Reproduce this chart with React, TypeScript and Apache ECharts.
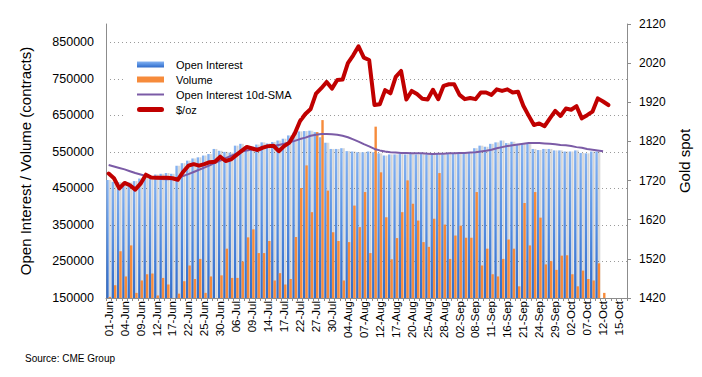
import React, { useEffect, useRef } from "react";
import * as echarts from "echarts";

const categories = [
  "01-Jun", "02-Jun", "03-Jun", "04-Jun", "05-Jun", "08-Jun", "09-Jun", "10-Jun", "11-Jun", "12-Jun",
  "15-Jun", "16-Jun", "17-Jun", "18-Jun", "19-Jun", "22-Jun", "23-Jun", "24-Jun", "25-Jun", "26-Jun",
  "29-Jun", "30-Jun", "01-Jul", "02-Jul", "06-Jul", "07-Jul", "08-Jul", "09-Jul", "10-Jul", "13-Jul",
  "14-Jul", "15-Jul", "16-Jul", "17-Jul", "20-Jul", "21-Jul", "22-Jul", "23-Jul", "24-Jul", "27-Jul",
  "28-Jul", "29-Jul", "30-Jul", "31-Jul", "03-Aug", "04-Aug", "05-Aug", "06-Aug", "07-Aug", "10-Aug",
  "11-Aug", "12-Aug", "13-Aug", "14-Aug", "17-Aug", "18-Aug", "19-Aug", "20-Aug", "21-Aug", "24-Aug",
  "25-Aug", "26-Aug", "27-Aug", "28-Aug", "31-Aug", "01-Sep", "02-Sep", "03-Sep", "04-Sep", "08-Sep",
  "09-Sep", "10-Sep", "11-Sep", "14-Sep", "15-Sep", "16-Sep", "17-Sep", "18-Sep", "21-Sep", "22-Sep",
  "23-Sep", "24-Sep", "25-Sep", "28-Sep", "29-Sep", "30-Sep", "01-Oct", "02-Oct", "05-Oct", "06-Oct",
  "07-Oct", "08-Oct", "09-Oct", "12-Oct", "13-Oct", "14-Oct", "15-Oct", "16-Oct",
];

const openInterest = [
  473000, 468000, 467000, 462000, 466000, 470000, 477000, 481000, 483000, 488000,
  490000, 492000, 490000, 512000, 519000, 526000, 532000, 535000, 540000, 544000,
  558000, 553000, 550000, 548000, 567000, 572000, 566000, 565000, 570000, 576000,
  573000, 577000, 581000, 586000, 595000, 603000, 606000, 607000, 608000, 604000,
  590000, 575000, 558000, 558000, 560000, 552000, 551000, 549000, 549000, 551000,
  549000, 546000, 540000, 543000, 543000, 544000, 543000, 544000, 543000, 544000,
  543000, 544000, 544000, 543000, 544000, 546000, 546000, 546000, 549000, 560000,
  567000, 564000, 572000, 576000, 581000, 574000, 578000, 572000, 572000, 572000,
  558000, 555000, 558000, 558000, 554000, 554000, 551000, 551000, 554000, 547000,
  546000, 551000, 551000,
];

const volume = [
  153000, 185000, 278000, 209000, 294000, 164000, 198000, 215000, 217000, 157000,
  205000, 187000, 148000, 162000, 196000, 239000, 202000, 257000, 164000, 209000,
  148000, 212000, 285000, 205000, 205000, 250000, 316000, 338000, 273000, 273000,
  306000, 198000, 218000, 187000, 202000, 317000, 451000, 513000, 385000, 604000,
  637000, 444000, 330000, 306000, 198000, 303000, 403000, 344000, 440000, 273000,
  619000, 494000, 371000, 256000, 314000, 385000, 472000, 408000, 362000, 303000,
  290000, 367000, 492000, 351000, 257000, 321000, 348000, 315000, 315000, 440000,
  239000, 285000, 215000, 209000, 257000, 310000, 285000, 182000, 410000, 294000,
  440000, 370000, 242000, 251000, 227000, 266000, 267000, 215000, 182000, 225000,
  202000, 198000, 245000, 164000,
];

const sma10 = [
  514000, 510000, 506000, 502000, 497000, 492000, 488000, 484000, 481000, 478000,
  476000, 475000, 476000, 479000, 484000, 489000, 495000, 501000, 507000, 513000,
  520000, 526000, 533000, 539000, 545000, 550000, 554000, 557000, 560000, 562000,
  564000, 566000, 569000, 572000, 576000, 580000, 585000, 589000, 594000, 597000,
  599000, 599000, 598000, 597000, 594000, 590000, 584000, 578000, 571000, 565000,
  558000, 554000, 551000, 549000, 548000, 547000, 547000, 546000, 546000, 546000,
  545000, 544000, 545000, 545000, 546000, 546000, 547000, 547000, 548000, 549000,
  551000, 553000, 556000, 560000, 563000, 566000, 568000, 570000, 572000, 574000,
  574000, 574000, 573000, 572000, 571000, 569000, 568000, 566000, 563000, 561000,
  558000, 556000, 554000, 552000,
];

const goldSpot = [
  1738, 1726, 1700, 1714, 1708, 1697, 1712, 1735, 1728, 1727,
  1727, 1727, 1726, 1722, 1742, 1758, 1762, 1758, 1762, 1767,
  1768, 1781, 1770, 1774, 1785, 1796, 1806, 1802, 1798, 1804,
  1808, 1809, 1795, 1808, 1817, 1840, 1872, 1890, 1903, 1942,
  1956, 1972, 1955, 1977, 1978, 2020, 2040, 2063, 2034, 2028,
  1913, 1915, 1951, 1943, 1985, 2000, 1927, 1949, 1941, 1929,
  1927, 1952, 1928, 1962, 1966, 1966, 1939, 1928, 1931, 1928,
  1945, 1945, 1939, 1953, 1949, 1953, 1945, 1947, 1911, 1886,
  1862, 1866, 1859, 1879, 1898, 1885, 1904, 1901, 1910, 1879,
  1887, 1896, 1930, 1922, 1913,
];

const FONT = "'Liberation Sans', Arial, Helvetica, sans-serif";

export default function App() {
  const ref = useRef<HTMLDivElement>(null);

  useEffect(() => {
    if (!ref.current) return;
    const chart = echarts.init(ref.current, null, { renderer: "svg" });
    const blueGradient = new echarts.graphic.LinearGradient(0, 0, 0, 1, [
      { offset: 0, color: "#86b3f1" },
      { offset: 0.45, color: "#5b93e3" },
      { offset: 0.8, color: "#3e78d2" },
      { offset: 1, color: "#356ec8" },
    ]);
    chart.setOption({
      animation: false,
      backgroundColor: "#ffffff",
      textStyle: { fontFamily: FONT },
      grid: { left: 106, right: 75, top: 24, bottom: 79 },
      legend: {
        orient: "vertical",
        left: 126,
        top: 50,
        padding: [9, 9, 3, 11],
        backgroundColor: "#ffffff",
        itemWidth: 27,
        itemHeight: 11,
        itemGap: 4,
        textStyle: { fontSize: 11, color: "#000", padding: [0, 0, 0, 7], lineHeight: 11, fontFamily: FONT },
        data: [
          { name: "Open Interest", icon: "path://M0,0H27V6H0Z" },
          { name: "Volume", icon: "path://M0,0H27V6H0Z" },
          { name: "Open Interest 10d-SMA", icon: "path://M0,0H27V2H0Z" },
          { name: "$/oz", icon: "path://M2.5,0H24.5A2.5,2.5,0,0,1,24.5,5H2.5A2.5,2.5,0,0,1,2.5,0Z" },
        ],
      },
      xAxis: {
        type: "category",
        data: categories,
        boundaryGap: true,
        axisLine: { show: true, lineStyle: { color: "#8c8c8c", width: 1 } },
        axisTick: { show: true, interval: 0, length: 3, lineStyle: { color: "#8c8c8c" } },
        axisLabel: { interval: 2, rotate: 90, fontSize: 11.5, color: "#000", margin: 3, fontFamily: FONT },
        splitLine: { show: false },
      },
      yAxis: [
        {
          type: "value",
          position: "left",
          min: 150000,
          max: 900000,
          interval: 100000,
          name: "Open Interest / Volume (contracts)",
          nameLocation: "middle",
          nameRotate: 90,
          nameGap: 73,
          nameTextStyle: { fontSize: 15, color: "#000", fontFamily: FONT },
          axisLine: { show: true, lineStyle: { color: "#8c8c8c", width: 1 } },
          axisTick: { show: false },
          axisLabel: {
            fontSize: 12.5,
            color: "#000",
            margin: 12,
            showMaxLabel: false,
            fontFamily: FONT,
            formatter: (v: number) => String(v),
          },
          splitLine: {
            show: true,
            showMinLine: false,
            showMaxLine: false,
            lineStyle: { color: "#9a9a9a", type: [1, 3], width: 1 },
          },
        },
        {
          type: "value",
          position: "right",
          min: 1420,
          max: 2120,
          interval: 100,
          name: "Gold spot",
          nameLocation: "middle",
          nameRotate: 90,
          nameGap: 38,
          nameTextStyle: { fontSize: 15, color: "#000", fontFamily: FONT },
          axisLine: { show: true, lineStyle: { color: "#8c8c8c", width: 1 } },
          axisTick: { show: true, length: 4, lineStyle: { color: "#8c8c8c" } },
          axisLabel: {
            fontSize: 12,
            color: "#000",
            margin: 12,
            fontFamily: FONT,
            formatter: (v: number) => String(v),
          },
          splitLine: { show: false },
        },
      ],
      series: [
        {
          name: "Open Interest",
          type: "bar",
          yAxisIndex: 0,
          data: openInterest,
          barWidth: 2.4,
          barGap: "0%",
          itemStyle: {
            color: blueGradient,
            shadowColor: "rgba(0,0,0,0.17)",
            shadowOffsetX: 2.4,
            shadowOffsetY: 0,
            shadowBlur: 1,
          },
        },
        {
          name: "Volume",
          type: "bar",
          yAxisIndex: 0,
          data: volume,
          barWidth: 2.4,
          barGap: "0%",
          itemStyle: { color: "#f68b3b" },
        },
        {
          name: "Open Interest 10d-SMA",
          type: "line",
          yAxisIndex: 0,
          data: sma10,
          symbol: "none",
          lineStyle: { color: "#7b5ba6", width: 2 },
          itemStyle: { color: "#7b5ba6" },
        },
        {
          name: "$/oz",
          type: "line",
          yAxisIndex: 1,
          data: goldSpot,
          symbol: "none",
          lineStyle: { color: "#c00000", width: 4, join: "round", cap: "round" },
          itemStyle: { color: "#c00000" },
        },
      ],
      graphic: [
        {
          type: "text",
          left: 25,
          top: 353,
          style: { text: "Source: CME Group", fontSize: 10, fill: "#000", fontFamily: FONT },
        },
      ],
    });
    return () => chart.dispose();
  }, []);

  return (
    <div
      ref={ref}
      style={{ position: "fixed", left: 0, top: 0, width: 702, height: 377, background: "#fff" }}
    />
  );
}
